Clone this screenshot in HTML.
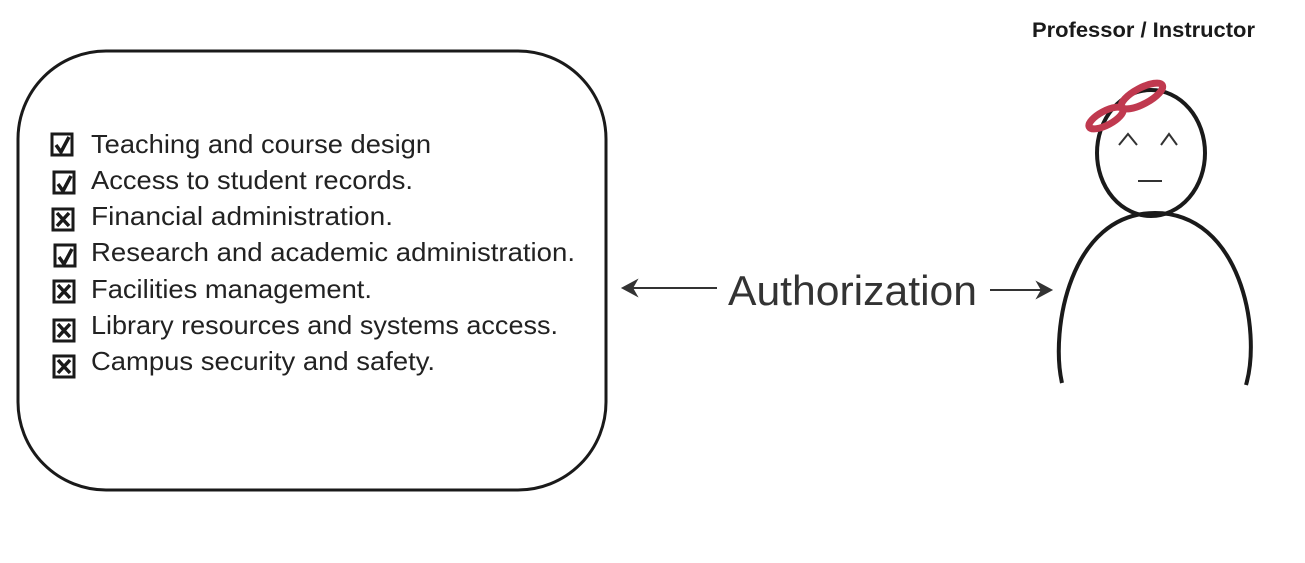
<!DOCTYPE html>
<html><head><style>
body{margin:0;background:#fff;width:1305px;height:563px;overflow:hidden}
svg{display:block}
</style></head><body>
<svg width="1305" height="563" viewBox="0 0 1305 563" font-family="Liberation Sans, sans-serif">
<rect x="18" y="51" width="588" height="439" rx="88" ry="88" fill="none" stroke="#1a1a1a" stroke-width="3"/>
<g font-size="26" fill="#222" lengthAdjust="spacingAndGlyphs">
<text x="91" y="153" textLength="340" lengthAdjust="spacingAndGlyphs">Teaching and course design</text>
<text x="91" y="189" textLength="322" lengthAdjust="spacingAndGlyphs">Access to student records.</text>
<text x="91" y="225" textLength="302" lengthAdjust="spacingAndGlyphs">Financial administration.</text>
<text x="91" y="261" textLength="484" lengthAdjust="spacingAndGlyphs">Research and academic administration.</text>
<text x="91" y="298" textLength="281" lengthAdjust="spacingAndGlyphs">Facilities management.</text>
<text x="91" y="334" textLength="467" lengthAdjust="spacingAndGlyphs">Library resources and systems access.</text>
<text x="91" y="370" textLength="344" lengthAdjust="spacingAndGlyphs">Campus security and safety.</text>
</g>
<g stroke="#1a1a1a" stroke-width="3" fill="none">
<rect x="52" y="134" width="20" height="21"/>
<rect x="54" y="172" width="20" height="21"/>
<rect x="53" y="209" width="20" height="21"/>
<rect x="55" y="245" width="20" height="21"/>
<rect x="54" y="281" width="20" height="21"/>
<rect x="54" y="320" width="20" height="21"/>
<rect x="54" y="356" width="20" height="21"/>
</g>
<g stroke="#1a1a1a" stroke-width="3.5" fill="none">
<path d="M56 145 L61 152 L69 137"/>
<path d="M58 184 L63 191 L71 176"/>
<path d="M59 257 L64 264 L72 249"/>
<path d="M57 213 L69 226 M69 213 L57 226"/>
<path d="M58 285 L70 298 M70 285 L58 298"/>
<path d="M58 324 L70 337 M70 324 L58 337"/>
<path d="M58 360 L70 373 M70 360 L58 373"/>
</g>
<text x="728" y="305" font-size="42" fill="#333" textLength="249" lengthAdjust="spacingAndGlyphs">Authorization</text>
<g stroke="#333" stroke-width="2" fill="#333">
<line x1="628" y1="288" x2="717" y2="288"/>
<path d="M623 288 L636 281 L632 288 L636 295 Z"/>
<line x1="990" y1="290" x2="1045" y2="290"/>
<path d="M1051 290 L1038 283 L1042 290 L1038 297 Z"/>
</g>
<text x="1032" y="37" font-size="21" font-weight="bold" fill="#1a1a1a" textLength="223" lengthAdjust="spacingAndGlyphs">Professor / Instructor</text>
<ellipse cx="1151" cy="153" rx="54" ry="63" fill="none" stroke="#1a1a1a" stroke-width="4"/>
<path d="M1062 383 C1050 330 1070 213 1155 213 C1240 213 1262 330 1246 385" fill="none" stroke="#1a1a1a" stroke-width="4"/>
<g stroke="#333" stroke-width="2" fill="none">
<path d="M1119 145 L1128 134 L1137 145"/>
<path d="M1161 145 L1169 134 L1177 145"/>
<line x1="1138" y1="181" x2="1162" y2="181"/>
</g>
<g stroke="#c0394f" stroke-width="7" fill="none">
<ellipse cx="1106" cy="118" rx="19" ry="7" transform="rotate(-28 1106 118)"/>
<ellipse cx="1142" cy="96" rx="23" ry="8" transform="rotate(-28 1142 96)"/>
</g>
</svg>
</body></html>
